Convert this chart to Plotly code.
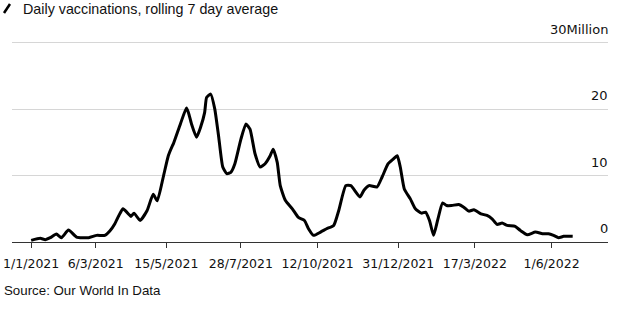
import plotly.graph_objects as go

# Daily vaccinations, rolling 7-day average (millions of doses)
dates = [
    "2021-01-01", "2021-01-10", "2021-01-15", "2021-01-20", "2021-01-26", "2021-01-31",
    "2021-02-07", "2021-02-15", "2021-02-27", "2021-03-07", "2021-03-15", "2021-03-20",
    "2021-03-25", "2021-03-29", "2021-04-02", "2021-04-08", "2021-04-10", "2021-04-13",
    "2021-04-19", "2021-04-26", "2021-05-02", "2021-05-06", "2021-05-12", "2021-05-17",
    "2021-05-21", "2021-05-22", "2021-05-29", "2021-06-04", "2021-06-06", "2021-06-09",
    "2021-06-14", "2021-06-18", "2021-06-22", "2021-06-24", "2021-06-28", "2021-07-02",
    "2021-07-06", "2021-07-10", "2021-07-14", "2021-07-18", "2021-07-22", "2021-07-28",
    "2021-08-02", "2021-08-06", "2021-08-11", "2021-08-16", "2021-08-21", "2021-08-26",
    "2021-08-29", "2021-09-02", "2021-09-05", "2021-09-10", "2021-09-17", "2021-09-23",
    "2021-09-29", "2021-10-03", "2021-10-08", "2021-10-15", "2021-10-21", "2021-10-28",
    "2021-11-02", "2021-11-09", "2021-11-14", "2021-11-23", "2021-11-27", "2021-12-02",
    "2021-12-10", "2021-12-15", "2021-12-21", "2021-12-26", "2021-12-30", "2022-01-02",
    "2022-01-06", "2022-01-12", "2022-01-17", "2022-01-23", "2022-01-27", "2022-01-31",
    "2022-02-04", "2022-02-08", "2022-02-13", "2022-02-17", "2022-02-22", "2022-03-01",
    "2022-03-06", "2022-03-11", "2022-03-16", "2022-03-23", "2022-03-29", "2022-04-03",
    "2022-04-08", "2022-04-13", "2022-04-18", "2022-04-26", "2022-05-01", "2022-05-08",
    "2022-05-16", "2022-05-23", "2022-05-29", "2022-06-03", "2022-06-08", "2022-06-13",
    "2022-06-22",
]
doses_millions = [
    0.25, 0.55, 0.35, 0.65, 1.2, 0.65,
    1.8, 0.75, 0.65, 1.0, 1.0, 1.65,
    2.75, 4.0, 5.0, 4.15, 3.85, 4.35,
    3.25, 4.75, 7.2, 6.2, 9.8, 13.0,
    14.5, 14.8, 17.8, 20.2, 19.5, 17.8,
    15.8, 17.3, 19.5, 21.8, 22.3, 20.1,
    15.8, 11.3, 10.3, 10.5, 11.8, 15.5,
    17.8, 17.0, 13.3, 11.3, 11.8, 13.0,
    14.0, 12.0, 8.5, 6.3, 5.0, 3.7,
    3.25, 2.0, 1.0, 1.5, 2.0, 2.5,
    4.75, 8.5, 8.5, 6.8, 7.8, 8.5,
    8.3, 9.8, 11.8, 12.5, 13.0, 11.3,
    8.0, 6.5, 5.0, 4.35, 4.5, 3.25,
    1.0, 3.25, 5.9, 5.5, 5.5, 5.65,
    5.25, 4.65, 4.85, 4.25, 4.0, 3.5,
    2.65, 2.85, 2.5, 2.35, 1.75, 1.1,
    1.5, 1.25, 1.25, 1.0, 0.65, 0.85,
    0.85,
]

x_tick_dates = ["2021-01-01", "2021-03-06", "2021-05-15", "2021-07-28",
                "2021-10-12", "2021-12-31", "2022-03-17", "2022-06-01"]
x_tick_labels = ["1/1/2021", "6/3/2021", "15/5/2021", "28/7/2021",
                 "12/10/2021", "31/12/2021", "17/3/2022", "1/6/2022"]
y_tick_values = [0, 10, 20, 30]
y_tick_labels = ["0", "10", "20", "30Million"]

W, H = 623, 325
ML, MR, MT, MB = 12, 15, 41, 83
PW, PH = W - ML - MR, H - MT - MB

TICK_FONT = dict(family="DejaVu Sans, sans-serif", size=13, color="#111111")
TEXT_FONT = "Liberation Sans, Arial, sans-serif"


def px_to_paper(px, py):
    """Convert page pixel coordinates into plot-area paper coordinates."""
    return (px - ML) / PW, 1 - (py - MT) / PH


fig = go.Figure()
fig.add_trace(go.Scatter(
    x=dates, y=doses_millions, mode="lines",
    line=dict(color="#000000", width=3, shape="spline", smoothing=0.5),
    hoverinfo="skip", showlegend=False,
))

# small diagonal stroke before the headline
x0, y0 = px_to_paper(4, 13)
x1, y1 = px_to_paper(10, 4)
fig.add_shape(type="line", xref="paper", yref="paper",
              x0=x0, y0=y0, x1=x1, y1=y1,
              line=dict(color="#000000", width=2.5))

hx, hy = px_to_paper(21, 9)
fig.add_annotation(xref="paper", yref="paper", x=hx, y=hy,
                   xanchor="left", yanchor="middle", showarrow=False,
                   text="Daily vaccinations, rolling 7 day average",
                   font=dict(family=TEXT_FONT, size=14.3, color="#111111"))

sx, sy = px_to_paper(2, 290)
fig.add_annotation(xref="paper", yref="paper", x=sx, y=sy,
                   xanchor="left", yanchor="middle", showarrow=False,
                   text="Source: Our World In Data",
                   font=dict(family=TEXT_FONT, size=13.3, color="#111111"))

# value labels sit just above their gridlines, flush with the right edge
for val, lab in zip(y_tick_values, y_tick_labels):
    fig.add_annotation(xref="paper", yref="y", x=1.0, y=val,
                       xanchor="right", yanchor="bottom",
                       xshift=2, yshift=4,
                       showarrow=False, text=lab, font=TICK_FONT)

fig.update_layout(
    width=W, height=H,
    margin=dict(l=ML, r=MR, t=MT, b=MB),
    paper_bgcolor="#ffffff", plot_bgcolor="#ffffff",
    xaxis=dict(
        type="date",
        range=["2020-12-13", "2022-07-27"],
        tickvals=x_tick_dates, ticktext=x_tick_labels,
        showgrid=False, zeroline=False,
        showline=True, linecolor="#333333", linewidth=1,
        ticks="outside", ticklen=5, tickcolor="#333333", tickwidth=1,
        ticklabelstandoff=5,
        tickfont=dict(family="DejaVu Sans, sans-serif", size=12.5, color="#111111"),
        automargin=False, fixedrange=True,
    ),
    yaxis=dict(
        range=[0, 30.3],
        tickvals=y_tick_values,
        showticklabels=False,
        ticks="",
        showgrid=True, gridcolor="#d6d6d6", gridwidth=1,
        zeroline=False, showline=False,
        automargin=False, fixedrange=True,
    ),
)

fig.write_html("out.html")
